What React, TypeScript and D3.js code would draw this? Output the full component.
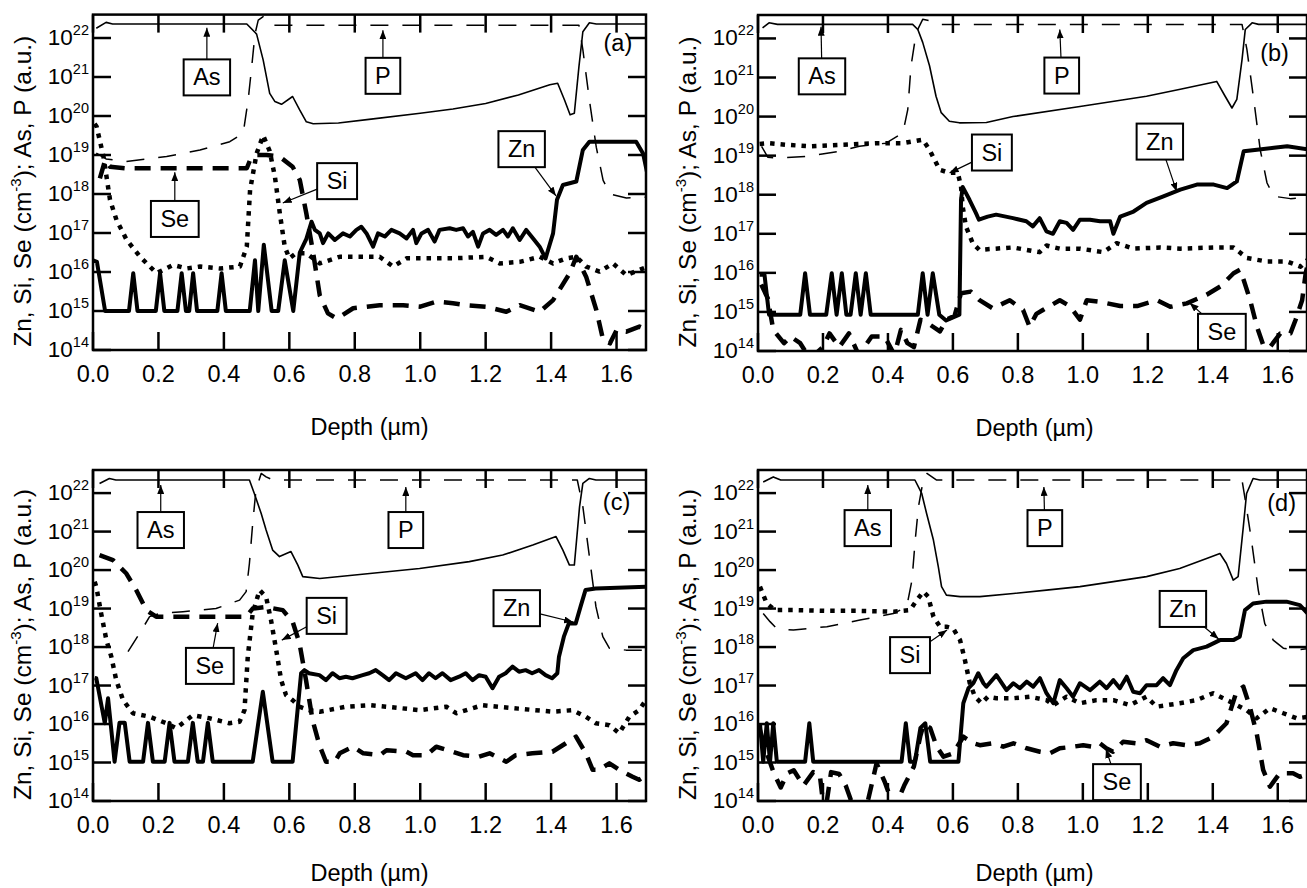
import React, { useEffect, useRef } from 'react'
import * as d3 from 'd3'

// every point is [depth (µm), log10 of concentration]
type Pt = [number, number]
type Note = { text: string, at: Pt, tip: Pt }

const depthTicks = [0, 0.2, 0.4, 0.6, 0.8, 1.0, 1.2, 1.4, 1.6]
const decades = [14, 15, 16, 17, 18, 19, 20, 21, 22]
const panelTags = ['(a)', '(b)', '(c)', '(d)']

// ---- panel (a)
const asA: Pt[] = [[0.01, 22.25], [0.04, 22.4], [0.06, 22.36], [0.47, 22.36], [0.5, 22.1], [0.52, 21.44], [0.54, 20.58], [0.556, 20.37], [0.576, 20.3], [0.61, 20.5], [0.632, 20.15], [0.652, 19.85], [0.673, 19.8], [0.75, 19.82], [0.85, 19.92], [1.0, 20.07], [1.1, 20.18], [1.2, 20.32], [1.3, 20.54], [1.396, 20.8], [1.42, 20.84], [1.441, 20.41], [1.458, 20.03], [1.471, 20.07], [1.485, 21.26], [1.497, 22.16], [1.517, 22.39], [1.538, 22.36], [1.7, 22.36]]
const pA: Pt[] = [[0.01, 19.05], [0.04, 18.9], [0.1, 18.83], [0.225, 18.96], [0.327, 19.13], [0.418, 19.34], [0.459, 19.56], [0.474, 20.4], [0.485, 21.26], [0.495, 22.1], [0.505, 22.46], [0.52, 22.55], [0.55, 22.33], [1.485, 22.33], [1.497, 21.7], [1.517, 20.41], [1.538, 19.2], [1.559, 18.35], [1.58, 18.0], [1.63, 17.9], [1.7, 17.92]]
const znA: Pt[] = [[0.0, 16.3], [0.012, 16.26], [0.037, 15.0], [0.11, 15.0], [0.123, 15.97], [0.136, 15.0], [0.192, 15.0], [0.205, 15.97], [0.218, 15.0], [0.258, 15.0], [0.271, 15.97], [0.284, 15.0], [0.294, 15.0], [0.306, 15.97], [0.318, 15.0], [0.38, 15.0], [0.393, 15.97], [0.406, 15.0], [0.479, 15.0], [0.495, 16.3], [0.505, 15.0], [0.522, 16.7], [0.546, 15.0], [0.566, 15.0], [0.586, 16.3], [0.612, 15.0], [0.632, 16.5], [0.652, 16.85], [0.668, 17.29], [0.678, 17.08], [0.693, 16.99], [0.703, 16.74], [0.719, 16.99], [0.739, 16.82], [0.764, 16.99], [0.785, 16.91], [0.805, 17.08], [0.82, 17.16], [0.836, 16.99], [0.856, 16.65], [0.871, 16.99], [0.892, 16.91], [0.912, 17.08], [0.937, 16.99], [0.958, 16.86], [0.978, 17.08], [0.988, 16.74], [1.004, 16.99], [1.024, 17.08], [1.044, 16.78], [1.059, 17.08], [1.09, 17.12], [1.11, 17.08], [1.131, 17.12], [1.146, 16.91], [1.161, 17.03], [1.177, 16.65], [1.192, 16.99], [1.212, 17.08], [1.232, 16.95], [1.253, 17.08], [1.268, 16.91], [1.283, 17.12], [1.304, 16.82], [1.324, 17.08], [1.345, 16.86], [1.365, 16.65], [1.383, 16.35], [1.406, 16.99], [1.418, 17.85], [1.436, 18.23], [1.477, 18.32], [1.497, 19.13], [1.517, 19.34], [1.66, 19.34], [1.681, 19.04], [1.696, 18.44]]
const siA: Pt[] = [[0.005, 19.8], [0.011, 19.73], [0.032, 18.96], [0.052, 17.85], [0.072, 17.33], [0.103, 16.82], [0.144, 16.39], [0.194, 15.97], [0.245, 16.18], [0.286, 16.09], [0.327, 16.14], [0.388, 16.09], [0.449, 16.14], [0.47, 16.65], [0.48, 18.1], [0.5, 19.04], [0.52, 19.5], [0.54, 19.1], [0.556, 18.44], [0.571, 17.5], [0.586, 16.65], [0.6, 16.35], [0.62, 16.48], [0.652, 16.48], [0.693, 16.22], [0.754, 16.39], [0.876, 16.39], [0.917, 16.14], [0.958, 16.35], [1.1, 16.35], [1.202, 16.39], [1.243, 16.22], [1.304, 16.26], [1.365, 16.39], [1.406, 16.22], [1.446, 16.35], [1.477, 16.39], [1.507, 16.14], [1.548, 16.01], [1.589, 16.22], [1.63, 15.92], [1.696, 16.14]]
const seA: Pt[] = [[0.021, 18.4], [0.037, 18.87], [0.052, 18.7], [0.1, 18.66], [0.47, 18.66], [0.48, 18.87], [0.5, 19.0], [0.53, 19.0], [0.57, 18.96], [0.61, 18.7], [0.632, 18.36], [0.652, 17.5], [0.673, 16.48], [0.693, 15.4], [0.718, 14.94], [0.744, 14.81], [0.754, 14.85], [0.795, 15.07], [0.876, 15.15], [0.948, 15.15], [1.0, 15.11], [1.05, 15.24], [1.1, 15.2], [1.141, 15.15], [1.202, 15.11], [1.263, 14.98], [1.304, 15.15], [1.365, 14.98], [1.406, 15.28], [1.457, 15.97], [1.477, 16.39], [1.507, 15.88], [1.538, 15.03], [1.559, 14.26], [1.58, 14.17], [1.6, 14.51], [1.63, 14.47], [1.67, 14.6], [1.696, 14.51]]
const notesA: Note[] = [
  { text: 'As', at: [0.348, 20.99], tip: [0.348, 22.26] },
  { text: 'P', at: [0.886, 21.03], tip: [0.886, 22.2] },
  { text: 'Se', at: [0.25, 17.36], tip: [0.25, 18.56] },
  { text: 'Si', at: [0.746, 18.33], tip: [0.58, 17.77] },
  { text: 'Zn', at: [1.31, 19.15], tip: [1.415, 17.95] },
]

// ---- panel (b)
const asB: Pt[] = [[0.014, 22.27], [0.034, 22.4], [0.06, 22.36], [0.476, 22.36], [0.492, 22.23], [0.507, 21.9], [0.528, 21.3], [0.548, 20.52], [0.564, 20.1], [0.589, 19.88], [0.62, 19.84], [0.703, 19.85], [0.785, 20.0], [0.991, 20.26], [1.196, 20.52], [1.3, 20.7], [1.412, 20.9], [1.438, 20.52], [1.459, 20.22], [1.474, 20.44], [1.49, 21.46], [1.5, 22.23], [1.521, 22.4], [1.541, 22.36], [1.7, 22.36]]
const pB: Pt[] = [[0.011, 19.24], [0.03, 18.96], [0.06, 18.94], [0.15, 18.98], [0.25, 19.11], [0.312, 19.24], [0.394, 19.32], [0.446, 19.58], [0.461, 20.18], [0.471, 21.29], [0.487, 22.15], [0.507, 22.49], [0.538, 22.44], [0.56, 22.36], [1.49, 22.36], [1.505, 21.72], [1.526, 20.44], [1.546, 19.15], [1.567, 18.3], [1.588, 17.96], [1.639, 17.9], [1.7, 17.93]]
const znB: Pt[] = [[0.005, 15.95], [0.02, 15.95], [0.034, 14.93], [0.13, 14.93], [0.145, 15.99], [0.16, 14.93], [0.21, 14.93], [0.227, 15.99], [0.242, 14.93], [0.258, 15.99], [0.272, 14.93], [0.285, 14.93], [0.301, 15.99], [0.316, 14.93], [0.332, 15.99], [0.347, 14.93], [0.492, 14.93], [0.507, 15.99], [0.522, 14.93], [0.538, 15.99], [0.558, 14.93], [0.579, 14.78], [0.62, 14.93], [0.625, 17.87], [0.63, 18.2], [0.651, 17.87], [0.671, 17.53], [0.68, 17.36], [0.707, 17.44], [0.733, 17.49], [0.785, 17.4], [0.826, 17.32], [0.846, 17.19], [0.867, 17.4], [0.888, 17.06], [0.908, 17.0], [0.929, 17.32], [0.95, 17.28], [0.97, 17.1], [0.991, 17.36], [1.022, 17.36], [1.053, 17.32], [1.084, 17.32], [1.094, 17.0], [1.115, 17.44], [1.156, 17.57], [1.196, 17.79], [1.248, 17.96], [1.3, 18.13], [1.351, 18.26], [1.403, 18.26], [1.444, 18.17], [1.474, 18.34], [1.495, 19.11], [1.536, 19.15], [1.588, 19.2], [1.629, 19.24], [1.7, 19.15]]
const siB: Pt[] = [[0.005, 19.3], [0.034, 19.32], [0.085, 19.28], [0.157, 19.24], [0.26, 19.28], [0.363, 19.32], [0.446, 19.32], [0.507, 19.41], [0.528, 19.15], [0.559, 18.64], [0.589, 18.56], [0.615, 18.56], [0.625, 18.21], [0.63, 17.7], [0.64, 17.19], [0.661, 16.76], [0.681, 16.59], [0.785, 16.65], [0.867, 16.53], [0.888, 16.7], [0.929, 16.62], [0.991, 16.62], [1.063, 16.53], [1.104, 16.76], [1.156, 16.62], [1.238, 16.65], [1.3, 16.62], [1.403, 16.65], [1.464, 16.65], [1.505, 16.38], [1.567, 16.29], [1.629, 16.29], [1.67, 16.16], [1.7, 16.4]]
const seB: Pt[] = [[0.01, 15.7], [0.03, 15.35], [0.047, 14.54], [0.08, 14.2], [0.1, 14.37], [0.13, 14.2], [0.16, 13.8], [0.2, 14.1], [0.22, 14.45], [0.25, 14.1], [0.28, 14.45], [0.31, 13.9], [0.35, 14.37], [0.39, 14.37], [0.42, 13.9], [0.44, 14.54], [0.46, 14.2], [0.48, 14.1], [0.5, 14.8], [0.53, 14.67], [0.56, 14.5], [0.58, 14.8], [0.605, 14.9], [0.625, 15.48], [0.655, 15.52], [0.682, 15.3], [0.723, 15.09], [0.775, 15.3], [0.816, 15.05], [0.836, 14.62], [0.857, 14.95], [0.877, 15.05], [0.929, 15.3], [0.96, 15.15], [0.991, 14.8], [1.012, 15.3], [1.053, 15.26], [1.115, 15.15], [1.167, 15.15], [1.228, 15.3], [1.269, 15.13], [1.32, 15.22], [1.381, 15.44], [1.423, 15.65], [1.464, 15.99], [1.484, 16.08], [1.495, 15.82], [1.515, 15.3], [1.536, 14.62], [1.557, 14.11], [1.577, 14.11], [1.608, 14.45], [1.639, 14.45], [1.655, 14.8], [1.675, 15.3], [1.686, 15.99], [1.7, 16.5]]
const notesB: Note[] = [
  { text: 'As', at: [0.197, 21.03], tip: [0.194, 22.3] },
  { text: 'P', at: [0.935, 21.05], tip: [0.929, 22.23] },
  { text: 'Si', at: [0.72, 19.08], tip: [0.59, 18.56] },
  { text: 'Zn', at: [1.237, 19.36], tip: [1.289, 18.08] },
  { text: 'Se', at: [1.428, 14.49], tip: [1.329, 15.23] },
]

// ---- panel (c)
const asC: Pt[] = [[0.02, 22.25], [0.05, 22.38], [0.07, 22.34], [0.478, 22.34], [0.493, 21.99], [0.514, 21.47], [0.529, 21.04], [0.549, 20.52], [0.57, 20.35], [0.605, 20.48], [0.626, 20.13], [0.641, 19.83], [0.693, 19.78], [0.846, 19.91], [0.998, 20.04], [1.15, 20.22], [1.252, 20.39], [1.344, 20.65], [1.415, 20.87], [1.436, 20.52], [1.456, 20.13], [1.471, 20.13], [1.487, 21.65], [1.497, 22.25], [1.517, 22.38], [1.537, 22.34], [1.7, 22.34]]
const pC: Pt[] = [[0.107, 17.88], [0.142, 18.35], [0.173, 18.79], [0.203, 18.87], [0.275, 18.92], [0.376, 19.0], [0.448, 19.22], [0.468, 19.44], [0.478, 20.17], [0.488, 21.21], [0.498, 22.08], [0.514, 22.51], [0.529, 22.42], [0.55, 22.34], [1.48, 22.34], [1.497, 21.65], [1.517, 20.35], [1.537, 19.05], [1.558, 18.27], [1.578, 17.97], [1.629, 17.92], [1.7, 17.92]]
const znC: Pt[] = [[0.005, 17.2], [0.01, 17.19], [0.036, 16.02], [0.046, 16.67], [0.066, 15.02], [0.081, 16.03], [0.097, 16.03], [0.112, 15.02], [0.153, 15.02], [0.168, 16.03], [0.183, 15.02], [0.219, 15.02], [0.234, 16.03], [0.249, 15.02], [0.29, 15.02], [0.305, 16.03], [0.32, 15.02], [0.336, 15.02], [0.351, 16.03], [0.366, 15.02], [0.488, 15.02], [0.519, 16.84], [0.549, 15.02], [0.61, 15.02], [0.636, 17.32], [0.646, 17.4], [0.66, 17.32], [0.692, 17.27], [0.712, 17.14], [0.732, 17.32], [0.753, 17.19], [0.773, 17.23], [0.793, 17.19], [0.824, 17.27], [0.844, 17.32], [0.864, 17.4], [0.885, 17.27], [0.905, 17.14], [0.926, 17.32], [0.956, 17.19], [0.986, 17.32], [1.007, 17.14], [1.027, 17.32], [1.047, 17.19], [1.068, 17.32], [1.093, 17.14], [1.119, 17.23], [1.139, 17.32], [1.16, 17.14], [1.18, 17.27], [1.2, 17.23], [1.221, 16.93], [1.241, 17.23], [1.261, 17.32], [1.282, 17.49], [1.302, 17.36], [1.322, 17.4], [1.342, 17.32], [1.363, 17.4], [1.383, 17.27], [1.403, 17.19], [1.419, 17.32], [1.424, 17.75], [1.439, 18.27], [1.454, 18.61], [1.475, 18.61], [1.49, 19.05], [1.505, 19.48], [1.536, 19.52], [1.7, 19.57]]
const siC: Pt[] = [[0.005, 19.7], [0.01, 19.57], [0.025, 18.87], [0.041, 18.18], [0.056, 17.75], [0.071, 17.14], [0.092, 16.62], [0.122, 16.28], [0.173, 16.19], [0.224, 16.02], [0.254, 15.89], [0.305, 16.23], [0.356, 16.15], [0.417, 16.02], [0.448, 16.06], [0.463, 16.36], [0.473, 17.75], [0.488, 18.87], [0.509, 19.48], [0.529, 19.3], [0.544, 18.7], [0.56, 17.92], [0.575, 17.14], [0.59, 16.75], [0.61, 16.62], [0.631, 16.45], [0.661, 16.36], [0.693, 16.32], [0.774, 16.45], [0.846, 16.49], [0.897, 16.45], [0.998, 16.36], [1.08, 16.45], [1.11, 16.28], [1.19, 16.49], [1.3, 16.4], [1.404, 16.32], [1.466, 16.36], [1.506, 16.19], [1.537, 16.02], [1.578, 15.97], [1.608, 15.76], [1.639, 16.19], [1.669, 16.36], [1.7, 16.75]]
const seC: Pt[] = [[0.02, 20.39], [0.061, 20.26], [0.102, 19.91], [0.132, 19.48], [0.163, 18.96], [0.193, 18.79], [0.468, 18.79], [0.488, 19.0], [0.529, 19.04], [0.58, 18.96], [0.61, 18.66], [0.631, 18.1], [0.651, 17.14], [0.671, 16.1], [0.692, 15.45], [0.712, 15.02], [0.739, 15.02], [0.754, 15.24], [0.795, 15.41], [0.826, 15.24], [0.877, 15.19], [0.897, 15.32], [0.958, 15.28], [0.978, 15.19], [1.019, 15.19], [1.049, 15.41], [1.1, 15.28], [1.131, 15.19], [1.18, 15.15], [1.212, 15.24], [1.263, 15.02], [1.292, 15.19], [1.343, 15.24], [1.404, 15.28], [1.445, 15.5], [1.476, 15.67], [1.506, 15.24], [1.527, 14.81], [1.547, 14.81], [1.578, 14.98], [1.608, 14.81], [1.649, 14.63], [1.669, 14.55], [1.7, 14.72]]
const notesC: Note[] = [
  { text: 'As', at: [0.207, 21.04], tip: [0.207, 22.21] },
  { text: 'P', at: [0.956, 21.04], tip: [0.956, 22.16] },
  { text: 'Se', at: [0.357, 17.51], tip: [0.381, 18.62] },
  { text: 'Si', at: [0.714, 18.81], tip: [0.577, 18.18] },
  { text: 'Zn', at: [1.295, 19.01], tip: [1.467, 18.65] },
]

// ---- panel (d)
const asD: Pt[] = [[0.016, 22.29], [0.047, 22.42], [0.07, 22.34], [0.483, 22.34], [0.504, 21.99], [0.519, 21.47], [0.54, 20.78], [0.555, 20.09], [0.565, 19.57], [0.58, 19.35], [0.622, 19.31], [0.683, 19.31], [0.786, 19.39], [0.888, 19.48], [0.991, 19.57], [1.094, 19.7], [1.196, 19.83], [1.298, 20.04], [1.381, 20.3], [1.422, 20.43], [1.442, 20.17], [1.463, 19.74], [1.478, 19.83], [1.494, 21.13], [1.504, 21.99], [1.524, 22.38], [1.545, 22.34], [1.7, 22.34]]
const pD: Pt[] = [[0.016, 18.87], [0.037, 18.66], [0.058, 18.48], [0.109, 18.44], [0.212, 18.53], [0.314, 18.7], [0.417, 18.87], [0.458, 19.05], [0.474, 19.74], [0.484, 20.78], [0.494, 21.65], [0.505, 22.16], [0.52, 22.51], [0.55, 22.34], [1.49, 22.34], [1.5, 21.82], [1.519, 20.78], [1.54, 19.48], [1.56, 18.61], [1.586, 18.18], [1.617, 17.97], [1.658, 17.92], [1.7, 17.97]]
const znD: Pt[] = [[0.006, 16.02], [0.016, 15.02], [0.027, 16.02], [0.037, 15.02], [0.047, 16.02], [0.058, 15.02], [0.145, 15.02], [0.158, 16.02], [0.17, 15.02], [0.442, 15.02], [0.455, 16.02], [0.468, 15.02], [0.483, 15.02], [0.5, 15.9], [0.515, 16.02], [0.53, 15.02], [0.617, 15.02], [0.632, 16.54], [0.648, 16.93], [0.663, 17.06], [0.678, 17.32], [0.694, 17.06], [0.703, 16.97], [0.734, 17.27], [0.765, 16.88], [0.786, 17.06], [0.806, 16.93], [0.827, 17.1], [0.847, 16.97], [0.868, 17.19], [0.888, 16.8], [0.909, 16.54], [0.929, 17.14], [0.95, 16.93], [0.97, 16.71], [0.991, 17.06], [1.022, 16.88], [1.052, 17.1], [1.073, 16.93], [1.094, 17.14], [1.114, 16.93], [1.135, 17.23], [1.155, 16.84], [1.176, 16.8], [1.196, 17.01], [1.227, 17.01], [1.247, 17.19], [1.268, 17.01], [1.288, 17.4], [1.309, 17.71], [1.34, 17.92], [1.381, 18.01], [1.422, 18.18], [1.463, 18.18], [1.483, 18.27], [1.499, 18.96], [1.524, 19.13], [1.565, 19.18], [1.627, 19.18], [1.668, 19.09], [1.7, 18.8]]
const siD: Pt[] = [[0.006, 19.57], [0.027, 19.13], [0.052, 18.96], [0.109, 18.96], [0.212, 18.94], [0.314, 18.94], [0.417, 18.92], [0.468, 18.96], [0.489, 19.22], [0.509, 19.44], [0.524, 19.31], [0.54, 18.79], [0.56, 18.53], [0.58, 18.53], [0.601, 18.48], [0.622, 18.18], [0.637, 17.66], [0.652, 17.06], [0.668, 16.71], [0.688, 16.54], [0.708, 16.71], [0.734, 16.67], [0.786, 16.67], [0.836, 16.71], [0.888, 16.62], [0.909, 16.49], [0.95, 16.71], [0.991, 16.54], [1.042, 16.62], [1.094, 16.62], [1.145, 16.49], [1.196, 16.71], [1.227, 16.45], [1.298, 16.54], [1.35, 16.62], [1.401, 16.8], [1.463, 16.54], [1.504, 16.36], [1.535, 16.15], [1.576, 16.41], [1.617, 16.28], [1.658, 16.15], [1.7, 16.19]]
const seD: Pt[] = [[0.006, 15.84], [0.027, 15.24], [0.05, 14.7], [0.07, 14.35], [0.09, 14.72], [0.11, 14.8], [0.14, 14.4], [0.17, 14.75], [0.19, 14.7], [0.205, 13.6], [0.225, 14.75], [0.25, 14.7], [0.27, 14.4], [0.3, 13.7], [0.33, 13.7], [0.365, 14.98], [0.39, 14.5], [0.42, 13.8], [0.45, 14.4], [0.48, 14.9], [0.5, 15.7], [0.51, 16.0], [0.53, 15.9], [0.55, 15.41], [0.571, 15.15], [0.601, 15.24], [0.632, 15.67], [0.663, 15.5], [0.683, 15.45], [0.724, 15.5], [0.755, 15.41], [0.786, 15.5], [0.827, 15.37], [0.868, 15.28], [0.898, 15.24], [0.929, 15.37], [0.97, 15.41], [1.001, 15.45], [1.031, 15.41], [1.052, 15.5], [1.072, 15.37], [1.093, 15.28], [1.124, 15.54], [1.165, 15.5], [1.196, 15.58], [1.237, 15.41], [1.278, 15.5], [1.319, 15.45], [1.36, 15.5], [1.401, 15.67], [1.442, 16.02], [1.473, 16.84], [1.494, 16.97], [1.514, 16.45], [1.535, 15.76], [1.555, 14.81], [1.576, 14.37], [1.606, 14.72], [1.647, 14.72], [1.668, 14.63], [1.7, 14.72]]
const notesD: Note[] = [
  { text: 'As', at: [0.338, 21.09], tip: [0.338, 22.21] },
  { text: 'P', at: [0.883, 21.09], tip: [0.88, 22.16] },
  { text: 'Si', at: [0.468, 17.79], tip: [0.582, 18.44] },
  { text: 'Zn', at: [1.308, 18.99], tip: [1.418, 18.21] },
  { text: 'Se', at: [1.105, 14.49], tip: [1.071, 15.35] },
]

const tagPos: Pt[] = [[1.604, 21.87], [1.59, 21.64], [1.6, 21.77], [1.612, 21.74]]

const seriesData = [
  { p: pA, as: asA, se: seA, si: siA, zn: znA },
  { p: pB, as: asB, se: seB, si: siB, zn: znB },
  { p: pC, as: asC, se: seC, si: siC, zn: znC },
  { p: pD, as: asD, se: seD, si: siD, zn: znD },
]
const notes = [notesA, notesB, notesC, notesD]

// layout of the four frames (pixels)
const frames = [
  { left: 93, top: 14.6, width: 553, height: 335.4, titleGap: 85 },
  { left: 758, top: 15, width: 549, height: 336, titleGap: 85 },
  { left: 93, top: 470, width: 553, height: 331, titleGap: 80 },
  { left: 758, top: 470, width: 549, height: 331, titleGap: 80 },
]

const lineStyle: Record<string, { w: number, dash: string | null }> = {
  p: { w: 1.5, dash: '18,14' },
  as: { w: 1.6, dash: null },
  se: { w: 4.5, dash: '16,10' },
  si: { w: 4.5, dash: '4.5,6' },
  zn: { w: 4, dash: null },
}

const FONT = 'Liberation Sans, Arial, Helvetica, sans-serif'

export default function App() {
  const ref = useRef<SVGSVGElement>(null)

  useEffect(() => {
    const svg = d3.select(ref.current)
    svg.selectAll('*').remove()
    svg.attr('font-family', FONT)

    const defs = svg.append('defs')
    defs.append('marker')
      .attr('id', 'head')
      .attr('viewBox', '0 0 9 7')
      .attr('refX', 9).attr('refY', 3.5)
      .attr('markerWidth', 9).attr('markerHeight', 7)
      .attr('markerUnits', 'userSpaceOnUse')
      .attr('orient', 'auto')
      .append('path').attr('d', 'M0,0L9,3.5L0,7z').attr('fill', '#000')

    frames.forEach((fr, i) => {
      const x = d3.scaleLinear().domain([0, 1.69]).range([fr.left, fr.left + fr.width])
      const y = d3.scaleLog().domain([1e14, Math.pow(10, 22.6)]).range([fr.top + fr.height, fr.top])
      const Y = (v: number) => y(Math.pow(10, v))
      const bottom = fr.top + fr.height
      const right = fr.left + fr.width

      defs.append('clipPath').attr('id', `clip${i}`)
        .append('rect').attr('x', fr.left).attr('y', fr.top)
        .attr('width', fr.width).attr('height', fr.height)

      const g = svg.append('g')

      // profiles
      const line = d3.line<Pt>().x(d => x(d[0])).y(d => Y(d[1]))
      const lines = g.append('g').attr('clip-path', `url(#clip${i})`).attr('fill', 'none').attr('stroke', '#000')
      const data = seriesData[i] as Record<string, Pt[]>
      for (const key of ['p', 'as', 'se', 'si', 'zn']) {
        const st = lineStyle[key]
        lines.append('path')
          .attr('d', line(data[key]))
          .attr('stroke-width', st.w)
          .attr('stroke-dasharray', st.dash)
          .attr('stroke-linejoin', 'round')
      }

      // frame and inward ticks
      const ax = g.append('g').attr('stroke', '#000').attr('stroke-width', 2.5)
      const tl = 18
      depthTicks.forEach(t => {
        ax.append('line').attr('x1', x(t)).attr('x2', x(t)).attr('y1', bottom).attr('y2', bottom - tl)
        ax.append('line').attr('x1', x(t)).attr('x2', x(t)).attr('y1', fr.top).attr('y2', fr.top + tl)
      })
      decades.forEach(e => {
        ax.append('line').attr('x1', fr.left).attr('x2', fr.left + tl).attr('y1', Y(e)).attr('y2', Y(e))
        ax.append('line').attr('x1', right).attr('x2', right - tl).attr('y1', Y(e)).attr('y2', Y(e))
      })
      ax.append('rect').attr('x', fr.left).attr('y', fr.top).attr('width', fr.width).attr('height', fr.height)
        .attr('fill', 'none')

      // tick labels
      depthTicks.forEach(t => {
        g.append('text').attr('x', x(t)).attr('y', bottom + 32)
          .attr('text-anchor', 'middle').attr('font-size', 23.5)
          .text(t.toFixed(1))
      })
      decades.forEach(e => {
        const tx = g.append('text').attr('x', fr.left - 4).attr('y', Y(e) + 7)
          .attr('text-anchor', 'end').attr('font-size', 22.5)
        tx.append('tspan').text('10')
        tx.append('tspan').attr('dy', -10).attr('font-size', 14.5).text(String(e))
      })

      // axis titles
      const yt = g.append('text')
        .attr('transform', `translate(${fr.left - 62},${fr.top + fr.height / 2 + 9}) rotate(-90)`)
        .attr('text-anchor', 'middle').attr('font-size', 24.5)
      yt.append('tspan').text('Zn, Si, Se (cm')
      yt.append('tspan').attr('dy', -10).attr('font-size', 15).text('-3')
      yt.append('tspan').attr('dy', 10).text('); As, P (a.u.)')

      g.append('text').attr('x', (fr.left + fr.left + 553) / 2).attr('y', bottom + fr.titleGap)
        .attr('text-anchor', 'middle').attr('font-size', 23.5)
        .text('Depth (\u00b5m)')

      // panel tag
      g.append('text').attr('x', x(tagPos[i][0])).attr('y', Y(tagPos[i][1]) + 8)
        .attr('text-anchor', 'middle').attr('font-size', 23.5)
        .text(panelTags[i])

      // labelled boxes with arrows
      notes[i].forEach(n => {
        const cx = x(n.at[0]), cy = Y(n.at[1])
        const tx = x(n.tip[0]), ty = Y(n.tip[1])
        const label = g.append('g')
        const txt = label.append('text').attr('x', cx).attr('y', cy + 8)
          .attr('text-anchor', 'middle').attr('font-size', 23.5).text(n.text)
        const w = (txt.node() as SVGTextElement).getComputedTextLength() + 19
        const h = 36
        const dx = tx - cx, dy = ty - cy
        const k = Math.min(dx === 0 ? Infinity : (w / 2) / Math.abs(dx), dy === 0 ? Infinity : (h / 2) / Math.abs(dy))
        g.insert('line', () => label.node())
          .attr('x1', cx + dx * k).attr('y1', cy + dy * k)
          .attr('x2', tx).attr('y2', ty)
          .attr('stroke', '#000').attr('stroke-width', 1.2)
          .attr('marker-end', 'url(#head)')
        label.insert('rect', 'text')
          .attr('x', cx - w / 2).attr('y', cy - h / 2).attr('width', w).attr('height', h)
          .attr('fill', '#fff').attr('stroke', '#000').attr('stroke-width', 2)
      })
    })
  }, [])

  return (
    <svg ref={ref} width={1307} height={888}
      style={{ position: 'absolute', left: 0, top: 0, background: '#fff' }} />
  )
}
